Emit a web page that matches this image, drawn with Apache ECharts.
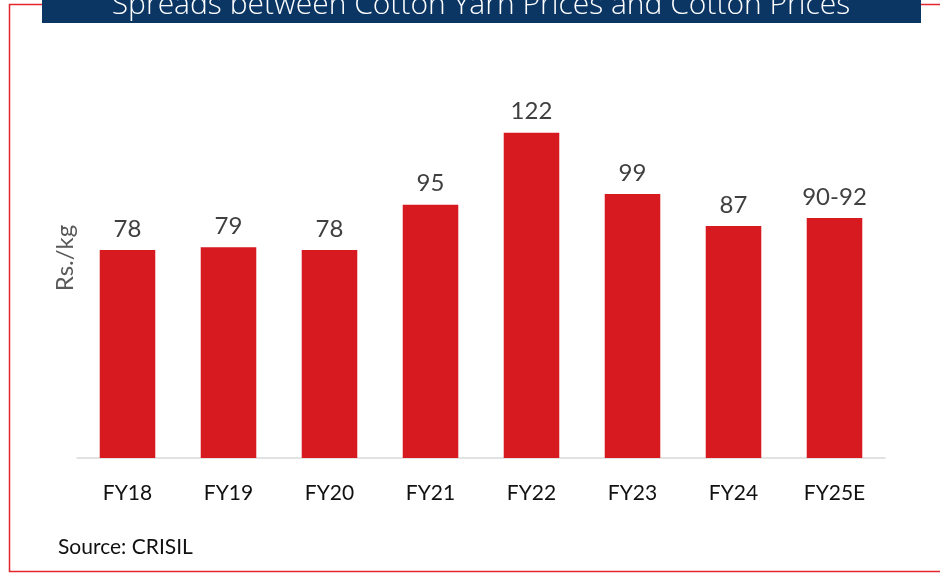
<!DOCTYPE html>
<html><head><meta charset="utf-8">
<script src="https://cdn.jsdelivr.net/npm/echarts@6/dist/echarts.min.js"></script>
<style>html,body{margin:0;padding:0;background:#fff}#c{width:940px;height:573px}</style>
</head><body><div id="c"></div>
<script>
const categories = ['FY18','FY19','FY20','FY21','FY22','FY23','FY24','FY25E'];
const values = [78, 79, 78, 95, 122, 99, 87, 90];
const labels = ['78','79','78','95','122','99','87','90-92'];
const titleText = 'Spreads between Cotton Yarn Prices and Cotton Prices';
const yName = 'Rs./kg';
const sourceText = 'Source: CRISIL';

const chart = echarts.init(document.getElementById('c'));
chart.setOption({
  animation: false,
  grid: {left: 77, right: 55, top: 58, bottom: 115},
  xAxis: {
    type: 'category', data: categories,
    axisLine: {lineStyle: {color: '#d9d9d9', width: 1.5}},
    axisTick: {show: false},
    axisLabel: {color: '#111', fontSize: 21, fontFamily: 'Lato', margin: 25}
  },
  yAxis: {
    type: 'value', min: 0, max: 150,
    axisLine: {show: false}, axisTick: {show: false}, axisLabel: {show: false},
    splitLine: {show: false},
    name: yName, nameLocation: 'middle', nameGap: 0,
    nameTextStyle: {color: '#595959', fontSize: 24, fontFamily: 'Lato'}
  },
  series: [{
    type: 'bar', data: values, barWidth: '55%',
    itemStyle: {color: '#d71920'},
    label: {
      show: true, position: 'top', distance: 9,
      color: '#404040', fontSize: 24, fontFamily: 'Lato',
      formatter: p => labels[p.dataIndex]
    }
  }],
  graphic: [
    {type: 'rect', shape: {x: 42, y: 0, width: 879, height: 23}, style: {fill: '#0b3664'}},
    {type: 'text', style: {x: 481, y: -10, text: titleText, fill: '#ffffff', font: '300 30px "Open Sans"', textAlign: 'center', textVerticalAlign: 'top'}},
    {type: 'polyline', shape: {points: [[42,4.5],[9.5,4.5],[9.5,571.5],[940,571.5]]}, style: {stroke: '#e4262f', lineWidth: 1.5, fill: null}},
    {type: 'line', shape: {x1: 921, y1: 4.5, x2: 940, y2: 4.5}, style: {stroke: '#e4262f', lineWidth: 1.5}},
    {type: 'text', style: {x: 58, y: 547, text: sourceText, fill: '#111', font: '21px Lato', textVerticalAlign: 'middle'}}
  ]
});
</script></body></html>
